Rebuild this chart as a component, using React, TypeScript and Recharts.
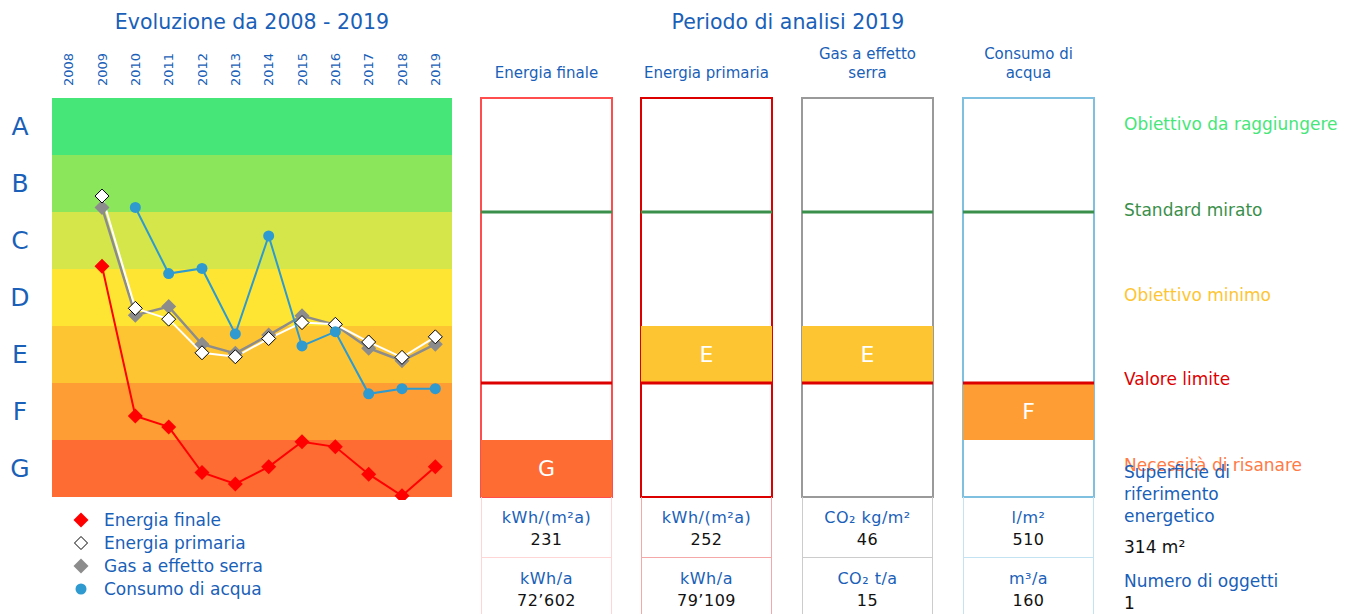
import React from "react";
import {
  Bar,
  ComposedChart,
  LabelList,
  Line,
  LineChart,
  ReferenceArea,
  ReferenceLine,
  XAxis,
  YAxis,
} from "recharts";

const FONT = "'DejaVu Sans', Verdana, sans-serif";
const BLUE = "#1a5fb8";

// classes, bottom (G) to top (A)
const classes = ["G", "F", "E", "D", "C", "B", "A"];
const classColors = ["#fe6b33", "#fe9d33", "#fec533", "#fee533", "#d4e649", "#8ce65b", "#46e679"];

const years = [2008, 2009, 2010, 2011, 2012, 2013, 2014, 2015, 2016, 2017, 2018, 2019];
// position on class scale: 0 = bottom of G, 7 = top of A
const energiaFinale = [null, 4.05, 1.42, 1.23, 0.43, 0.23, 0.53, 0.97, 0.88, 0.4, 0.02, 0.53];
const energiaPrimaria = [null, 5.28, 3.31, 3.12, 2.53, 2.46, 2.78, 3.06, 3.03, 2.72, 2.45, 2.81];
const gasSerra = [null, 5.08, 3.19, 3.34, 2.68, 2.52, 2.84, 3.18, 3.02, 2.61, 2.39, 2.68];
const consumoAcqua = [null, null, 5.08, 3.92, 4.01, 2.86, 4.58, 2.65, 2.9, 1.81, 1.9, 1.9];

const trendData = years.map((year, i) => ({
  year,
  finale: energiaFinale[i],
  primaria: energiaPrimaria[i],
  gas: gasSerra[i],
  acqua: consumoAcqua[i],
}));

const seriesNames = ["Energia finale", "Energia primaria", "Gas a effetto serra", "Consumo di acqua"];

// analysis period panels
const panelTitles = [["Energia finale"], ["Energia primaria"], ["Gas a effetto", "serra"], ["Consumo di", "acqua"]];
const panelRatings = ["G", "E", "E", "F"];
const panelBorders = ["#ff4d4d", "#dd0000", "#9a9a9a", "#7fc0e0"];
const tableBorders = ["#ffd6d6", "#f4a8a8", "#cccccc", "#c4e3f2"];
const unitPerArea = ["kWh/(m²a)", "kWh/(m²a)", "CO₂ kg/m²", "l/m²"];
const valuePerArea = ["231", "252", "46", "510"];
const unitTotal = ["kWh/a", "kWh/a", "CO₂ t/a", "m³/a"];
const valueTotal = ["72’602", "79’109", "15", "160"];
const panelLefts = [481, 641, 802, 963];

const TARGET_LINE = 5; // standard mirato
const LIMIT_LINE = 2; // valore limite

const sideLabels = [
  { text: "Obiettivo da raggiungere", color: "#46e679", y: 124 },
  { text: "Standard mirato", color: "#3a8f4a", y: 210 },
  { text: "Obiettivo minimo", color: "#fec533", y: 295 },
  { text: "Valore limite", color: "#dd0000", y: 379 },
  { text: "Necessità di risanare", color: "#ff7a45", y: 465 },
];

const diamond = (fill: string, stroke: string, r = 7.5) => (props: any) => {
  const { cx, cy, index } = props;
  if (cx == null || cy == null || Number.isNaN(cy)) return <g key={`d-${index}`} />;
  return (
    <path
      key={`d-${index}`}
      d={`M${cx},${cy - r}L${cx + r},${cy}L${cx},${cy + r}L${cx - r},${cy}Z`}
      fill={fill}
      stroke={stroke}
      strokeWidth={1}
    />
  );
};

const circleDot = (fill: string) => (props: any) => {
  const { cx, cy, index } = props;
  if (cx == null || cy == null || Number.isNaN(cy)) return <g key={`c-${index}`} />;
  return <circle key={`c-${index}`} cx={cx} cy={cy} r={5.5} fill={fill} />;
};

const YearTick = ({ x, y, payload }: any) => (
  <text
    transform={`translate(${x},${y - 4}) rotate(-90)`}
    textAnchor="start"
    dominantBaseline="central"
    fill={BLUE}
    fontSize={13}
    fontFamily={FONT}
  >
    {payload.value}
  </text>
);

const ClassTick = ({ x, y, payload }: any) => (
  <text x={x - 24} y={y} textAnchor="middle" dominantBaseline="central" fill={BLUE} fontSize={25} fontFamily={FONT}>
    {classes[Math.floor(payload.value)]}
  </text>
);

const abs = (left: number, top: number, extra: React.CSSProperties = {}): React.CSSProperties => ({
  position: "absolute",
  left,
  top,
  ...extra,
});

function Panel({ i }: { i: number }) {
  const r = classes.indexOf(panelRatings[i]);
  const left = panelLefts[i];
  const data = [{ k: panelRatings[i], band: [r, r + 1] }];
  return (
    <>
      <div style={abs(left - 20, panelTitles[i].length > 1 ? 45 : 64, { width: 171, textAlign: "center", fontSize: 15, lineHeight: "19px", color: BLUE })}>
        {panelTitles[i].map((t) => (
          <div key={t}>{t}</div>
        ))}
      </div>
      <div style={abs(left - 1, 97)}>
        <ComposedChart width={133} height={401} data={data} margin={{ top: 1, right: 1, bottom: 1, left: 1 }} barCategoryGap={0}>
          <XAxis dataKey="k" type="category" hide />
          <YAxis type="number" domain={[0, 7]} hide />
          <Bar dataKey="band" fill={classColors[r]} isAnimationActive={false}>
            <LabelList dataKey="k" position="center" fill="#ffffff" fontSize={22} fontFamily={FONT} />
          </Bar>
          <ReferenceLine y={TARGET_LINE} stroke="#3a8f4a" strokeWidth={3} />
          <ReferenceLine y={LIMIT_LINE} stroke="#dd0000" strokeWidth={3} />
          <ReferenceArea y1={0} y2={7} fill="none" fillOpacity={0} stroke={panelBorders[i]} strokeWidth={2} />
        </ComposedChart>
      </div>
      <div
        style={abs(left, 497, {
          width: 131,
          height: 130,
          boxSizing: "border-box",
          borderLeft: `1px solid ${tableBorders[i]}`,
          borderRight: `1px solid ${tableBorders[i]}`,
          textAlign: "center",
          fontSize: 16,
          lineHeight: "22px",
        })}
      >
        <div style={{ height: 61, boxSizing: "border-box", borderBottom: `1px solid ${tableBorders[i]}`, paddingTop: 10 }}>
          <div style={{ color: BLUE, letterSpacing: 0.5 }}>{unitPerArea[i]}</div>
          <div style={{ color: "#111", letterSpacing: 0.5 }}>{valuePerArea[i]}</div>
        </div>
        <div style={{ paddingTop: 10 }}>
          <div style={{ color: BLUE, letterSpacing: 0.5 }}>{unitTotal[i]}</div>
          <div style={{ color: "#111", letterSpacing: 0.5 }}>{valueTotal[i]}</div>
        </div>
      </div>
    </>
  );
}

const legendIcons = [
  <path d="M9,1.5L16.5,9L9,16.5L1.5,9Z" fill="#ff0000" />,
  <path d="M9,2.5L15.5,9L9,15.5L2.5,9Z" fill="#ffffff" stroke="#000" strokeWidth={1} />,
  <path d="M9,1.5L16.5,9L9,16.5L1.5,9Z" fill="#8c8c8c" />,
  <circle cx={9} cy={9} r={5.5} fill="#2e9ad0" />,
];

export default function App() {
  return (
    <div style={abs(0, 0, { width: 1358, height: 614, overflow: "hidden", background: "#fff", fontFamily: FONT })}>
      <div style={abs(52, 8, { width: 400, textAlign: "center", fontSize: 20.5, lineHeight: "28px", color: BLUE })}>
        Evoluzione da 2008 - 2019
      </div>
      <div style={abs(588, 8, { width: 400, textAlign: "center", fontSize: 20.5, lineHeight: "28px", color: BLUE })}>
        Periodo di analisi 2019
      </div>

      <div style={abs(0, 0)}>
        <LineChart width={460} height={500} data={trendData} margin={{ top: 58, right: 8, bottom: 3, left: 0 }}>
          <XAxis
            dataKey="year"
            type="number"
            orientation="top"
            height={40}
            domain={[2007.5, 2019.5]}
            ticks={years}
            interval={0}
            tickLine={false}
            axisLine={false}
            tick={<YearTick />}
          />
          <YAxis
            type="number"
            domain={[0, 7]}
            width={52}
            ticks={[0.5, 1.5, 2.5, 3.5, 4.5, 5.5, 6.5]}
            interval={0}
            tickLine={false}
            axisLine={false}
            tick={<ClassTick />}
          />
          {classColors.map((c, i) => (
            <ReferenceArea key={classes[i]} y1={i} y2={i + 1} fill={c} fillOpacity={1} stroke="none" />
          ))}
          <Line dataKey="finale" stroke="#ff0000" strokeWidth={2} dot={diamond("#ff0000", "none")} isAnimationActive={false} />
          <Line dataKey="gas" stroke="#8c8c8c" strokeWidth={2.5} dot={diamond("#8c8c8c", "none")} isAnimationActive={false} />
          <Line dataKey="primaria" stroke="#ffffff" strokeWidth={2} dot={diamond("#ffffff", "#000000", 7)} isAnimationActive={false} />
          <Line dataKey="acqua" stroke="#2e9ad0" strokeWidth={2} dot={circleDot("#2e9ad0")} isAnimationActive={false} />
        </LineChart>
      </div>

      {seriesNames.map((name, i) => (
        <div key={name} style={abs(72, 508 + i * 23, { height: 23, display: "flex", alignItems: "center", fontSize: 17, color: BLUE })}>
          <svg width={18} height={18} style={{ marginRight: 14 }}>
            {legendIcons[i]}
          </svg>
          {name}
        </div>
      ))}

      {panelLefts.map((_, i) => (
        <Panel key={i} i={i} />
      ))}

      {sideLabels.map((l) => (
        <div key={l.text} style={abs(1124, l.y - 12, { width: 216, overflow: "hidden", whiteSpace: "nowrap", fontSize: 17, lineHeight: "24px", color: l.color })}>
          {l.text}
        </div>
      ))}
      <div style={abs(1124, 461, { fontSize: 17, lineHeight: "22px", color: BLUE })}>
        Superficie di
        <br />
        riferimento
        <br />
        energetico
      </div>
      <div style={abs(1124, 536, { fontSize: 17, lineHeight: "22px", color: "#111" })}>314 m²</div>
      <div style={abs(1124, 570, { fontSize: 17, lineHeight: "22px", color: BLUE })}>Numero di oggetti</div>
      <div style={abs(1124, 592, { fontSize: 17, lineHeight: "22px", color: "#111" })}>1</div>
    </div>
  );
}
